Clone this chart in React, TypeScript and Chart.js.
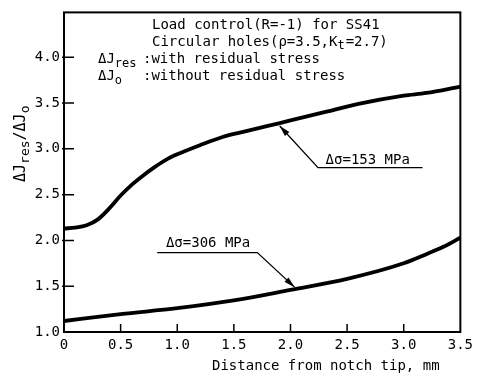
import React, { useEffect, useRef } from 'react';
import { Chart, registerables } from 'chart.js';

Chart.register(...registerables);

// ---- Data ----
const upperX = [0, 0.1, 0.2, 0.3, 0.4, 0.5, 0.6, 0.7, 0.8, 0.9, 1.0, 1.2, 1.4, 1.6, 1.8, 2.0, 2.3, 2.6, 3.0, 3.2, 3.5];
const upperY = [2.13, 2.14, 2.165, 2.23, 2.35, 2.49, 2.61, 2.71, 2.8, 2.88, 2.94, 3.04, 3.13, 3.19, 3.25, 3.31, 3.4, 3.49, 3.58, 3.61, 3.68];
const lowerX = [0, 0.5, 1.0, 1.5, 2.0, 2.5, 3.0, 3.2, 3.35, 3.5];
const lowerY = [1.12, 1.195, 1.26, 1.345, 1.46, 1.58, 1.75, 1.85, 1.93, 2.03];

const xTicks = [0, 0.5, 1.0, 1.5, 2.0, 2.5, 3.0, 3.5];
const yTicks = [1.0, 1.5, 2.0, 2.5, 3.0, 3.5, 4.0];

const upperLabel = 'Δσ=153 MPa';
const lowerLabel = 'Δσ=306 MPa';
const xTitle = 'Distance from notch tip, mm';
const noteLine1 = 'Load control(R=-1) for SS41';
const noteLine2a = 'Circular holes(ρ=3.5,K';
const noteLine2sub = 't';
const noteLine2b = '=2.7)';
const noteLine3sub = 'res';
const noteLine3 = ':with residual stress';
const noteLine4sub = 'o';
const noteLine4 = ':without residual stress';

// annotation geometry in data units
const upperAnn = { tip: [1.905, 3.25], elbow: [2.243, 2.795], end: [3.166, 2.795], text: [2.31, 2.835] };
const lowerAnn = { tip: [2.036, 1.49], elbow: [1.707, 1.867], start: [0.823, 1.867], text: [0.9, 1.925] };

const FONT = '"DejaVu Sans Mono", "Liberation Mono", monospace';

function drawArrow(ctx: CanvasRenderingContext2D, x1: number, y1: number, x2: number, y2: number) {
  const ang = Math.atan2(y2 - y1, x2 - x1);
  const len = 11;
  const w = 3;
  ctx.beginPath();
  ctx.moveTo(x2, y2);
  ctx.lineTo(x2 - len * Math.cos(ang) + w * Math.sin(ang), y2 - len * Math.sin(ang) - w * Math.cos(ang));
  ctx.lineTo(x2 - len * Math.cos(ang) - w * Math.sin(ang), y2 - len * Math.sin(ang) + w * Math.cos(ang));
  ctx.closePath();
  ctx.fill();
}

const decorPlugin = {
  id: 'decor',
  afterDraw(chart: any) {
    const { ctx, chartArea: a, scales } = chart;
    const xs = scales.x;
    const ys = scales.y;
    const px = (v: number) => xs.getPixelForValue(v);
    const py = (v: number) => ys.getPixelForValue(v);
    ctx.save();
    ctx.strokeStyle = '#000';
    ctx.fillStyle = '#000';

    // frame
    ctx.lineWidth = 2;
    ctx.strokeRect(a.left, a.top, a.right - a.left, a.bottom - a.top);

    // inward ticks
    ctx.lineWidth = 1.5;
    ctx.beginPath();
    xTicks.forEach((t) => {
      const x = px(t);
      if (x <= a.left + 1 || x >= a.right - 1) return;
      ctx.moveTo(x, a.bottom);
      ctx.lineTo(x, a.bottom - 8);
    });
    yTicks.forEach((t) => {
      const y = py(t);
      if (y >= a.bottom - 1) return;
      ctx.moveTo(a.left - 2, y);
      ctx.lineTo(a.left + 10, y);
    });
    ctx.stroke();

    // annotations
    ctx.lineWidth = 1.3;
    ctx.beginPath();
    ctx.moveTo(px(upperAnn.end[0]), py(upperAnn.end[1]));
    ctx.lineTo(px(upperAnn.elbow[0]), py(upperAnn.elbow[1]));
    ctx.lineTo(px(upperAnn.tip[0]), py(upperAnn.tip[1]));
    ctx.moveTo(px(lowerAnn.start[0]), py(lowerAnn.start[1]));
    ctx.lineTo(px(lowerAnn.elbow[0]), py(lowerAnn.elbow[1]));
    ctx.lineTo(px(lowerAnn.tip[0]), py(lowerAnn.tip[1]));
    ctx.stroke();
    drawArrow(ctx, px(upperAnn.elbow[0]), py(upperAnn.elbow[1]), px(upperAnn.tip[0]), py(upperAnn.tip[1]));
    drawArrow(ctx, px(lowerAnn.elbow[0]), py(lowerAnn.elbow[1]), px(lowerAnn.tip[0]), py(lowerAnn.tip[1]));

    ctx.font = `14px ${FONT}`;
    ctx.textBaseline = 'alphabetic';
    ctx.textAlign = 'left';
    ctx.fillText(upperLabel, px(upperAnn.text[0]), py(upperAnn.text[1]));
    ctx.fillText(lowerLabel, px(lowerAnn.text[0]), py(lowerAnn.text[1]));

    // notes block
    const main = `14px ${FONT}`;
    const sub = `12px ${FONT}`;
    ctx.font = main;
    ctx.fillText(noteLine1, 152, 29);
    ctx.fillText(noteLine2a, 152, 46);
    let w = ctx.measureText(noteLine2a).width;
    ctx.font = sub;
    ctx.fillText(noteLine2sub, 152 + w, 49);
    const ws = ctx.measureText(noteLine2sub).width;
    ctx.font = main;
    ctx.fillText(noteLine2b, 152 + w + ws + 1, 46);

    ctx.fillText('ΔJ', 98, 63);
    w = ctx.measureText('ΔJ').width;
    ctx.font = sub;
    ctx.fillText(noteLine3sub, 98 + w, 67);
    ctx.font = main;
    ctx.fillText(noteLine3, 143, 63);

    ctx.fillText('ΔJ', 98, 80);
    ctx.font = sub;
    ctx.fillText(noteLine4sub, 98 + w, 84);
    ctx.font = main;
    ctx.fillText(noteLine4, 143, 80);

    // x title
    ctx.fillText(xTitle, 212, 370);

    // y title (rotated)
    ctx.save();
    ctx.translate(25, 182);
    ctx.rotate(-Math.PI / 2);
    let cx = 0;
    const seg = (t: string, isSub: boolean) => {
      ctx.font = isSub ? `13px ${FONT}` : `15px ${FONT}`;
      ctx.fillText(t, cx, isSub ? 4 : 0);
      cx += ctx.measureText(t).width;
    };
    seg('ΔJ', false);
    seg('res', true);
    seg('/ΔJ', false);
    seg('o', true);
    ctx.restore();

    ctx.restore();
  },
};

export default function App() {
  const ref = useRef<HTMLCanvasElement>(null);
  useEffect(() => {
    const canvas = ref.current;
    if (!canvas) return;
    const chart = new Chart(canvas, {
      type: 'line',
      data: {
        datasets: [
          {
            label: upperLabel,
            data: upperX.map((x, i) => ({ x, y: upperY[i] })),
            borderColor: '#000',
            borderWidth: 3.8,
            pointRadius: 0,
            cubicInterpolationMode: 'monotone',
            fill: false,
          },
          {
            label: lowerLabel,
            data: lowerX.map((x, i) => ({ x, y: lowerY[i] })),
            borderColor: '#000',
            borderWidth: 3.8,
            pointRadius: 0,
            cubicInterpolationMode: 'monotone',
            fill: false,
          },
        ],
      },
      options: {
        animation: false,
        responsive: false,
        events: [],
        layout: { padding: { left: 0, top: 10, right: 11, bottom: 0 } },
        plugins: { legend: { display: false }, tooltip: { enabled: false } },
        scales: {
          x: {
            type: 'linear',
            min: 0,
            max: 3.5,
            afterBuildTicks: (s: any) => {
              s.ticks = xTicks.map((v) => ({ value: v }));
            },
            afterFit: (s: any) => {
              s.height = 42;
            },
            grid: { display: false, drawTicks: false },
            border: { display: false },
            ticks: {
              padding: 5,
              color: '#000',
              maxRotation: 0,
              autoSkip: false,
              font: { family: FONT, size: 14 },
              callback: (v: any) => (Number(v) === 0 ? '0' : Number(v).toFixed(1)),
            },
          },
          y: {
            type: 'linear',
            min: 1.0,
            max: 4.49,
            afterBuildTicks: (s: any) => {
              s.ticks = yTicks.map((v) => ({ value: v }));
            },
            afterFit: (s: any) => {
              s.width = 64;
            },
            grid: { display: false, drawTicks: false },
            border: { display: false },
            ticks: {
              padding: 4,
              color: '#000',
              autoSkip: false,
              font: { family: FONT, size: 14 },
              callback: (v: any) => Number(v).toFixed(1),
            },
          },
        },
      },
      plugins: [decorPlugin],
    } as any);
    return () => chart.destroy();
  }, []);
  return (
    <div style={{ position: 'fixed', left: 0, top: 0, width: 478, height: 374, background: '#fff' }}>
      <canvas ref={ref} width={478} height={374} style={{ display: 'block' }} />
    </div>
  );
}
